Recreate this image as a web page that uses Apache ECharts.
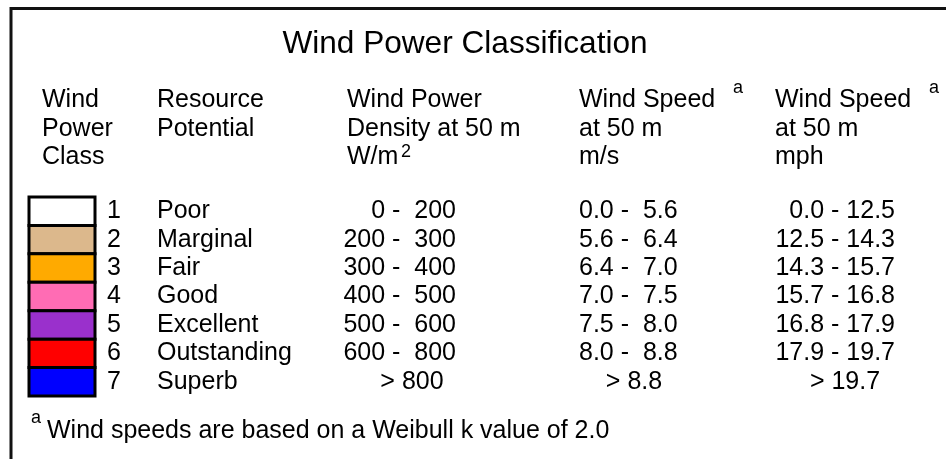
<!DOCTYPE html>
<html>
<head>
<meta charset="utf-8">
<script src="https://cdn.jsdelivr.net/npm/echarts@6/dist/echarts.min.js"></script>
<style>html,body{margin:0;padding:0;background:#fff}#c{width:946px;height:459px}</style>
</head>
<body>
<div id="c"></div>
<script>
// ---- data ----
const classes = ['1', '2', '3', '4', '5', '6', '7'];
const potentials = ['Poor', 'Marginal', 'Fair', 'Good', 'Excellent', 'Outstanding', 'Superb'];
const densityLow = ['0', '200', '300', '400', '500', '600', '800'];
const densityHigh = ['200', '300', '400', '500', '600', '800', null];
const speedMsLow = ['0.0', '5.6', '6.4', '7.0', '7.5', '8.0', '8.8'];
const speedMsHigh = ['5.6', '6.4', '7.0', '7.5', '8.0', '8.8', null];
const speedMphLow = ['0.0', '12.5', '14.3', '15.7', '16.8', '17.9', '19.7'];
const speedMphHigh = ['12.5', '14.3', '15.7', '16.8', '17.9', '19.7', null];
const titleText = 'Wind Power Classification';
const headers = [
  'Wind\nPower\nClass',
  'Resource\nPotential',
  'Wind Power\nDensity at 50 m\nW/m',
  'Wind Speed\nat 50 m\nm/s',
  'Wind Speed\nat 50 m\nmph'
];
const footnote = 'Wind speeds are based on a Weibull k value of 2.0';

// ---- styles ----
const classColors = ['#FFFFFF', '#DCB88C', '#FFAA00', '#FF6CB4', '#9A30CC', '#FF0000', '#0000FF'];
const FONT = '"Liberation Sans", Arial, Helvetica, sans-serif';
const INK = '#000';

const chart = echarts.init(document.getElementById('c'), null, {renderer: 'canvas'});

function textSeries(texts, place) {
  return {
    type: 'custom',
    silent: true,
    data: texts.map((t, i) => ({value: [i], name: t})),
    renderItem: function (params, api) {
      const i = params.dataIndex;
      const t = texts[i];
      const p = place(i);
      const pt = api.coord([p.x, i]);
      return {
        type: 'text',
        x: pt[0], y: pt[1],
        style: {
          text: t, fill: INK, fontSize: 25, fontFamily: FONT,
          align: p.align, verticalAlign: 'middle'
        }
      };
    }
  };
}

function rangeText(lo, hi, sep) {
  return hi === null ? '> ' + lo : lo + sep + hi;
}

const densityText = densityLow.map((l, i) => rangeText(l, densityHigh[i], ' -  '));
const msText = speedMsLow.map((l, i) => rangeText(l, speedMsHigh[i], ' -  '));
const mphText = speedMphLow.map((l, i) => rangeText(l, speedMphHigh[i], ' - '));

function headerText(x, t) {
  return {type: 'text', x: x, y: 86, style: {text: t, fill: INK, fontSize: 25, lineHeight: 28.5, fontFamily: FONT, align: 'left', verticalAlign: 'top'}};
}
function supText(x, y, t, size) {
  return {type: 'text', x: x, y: y, style: {text: t, fill: INK, fontSize: size, fontFamily: FONT, align: 'left', verticalAlign: 'middle'}};
}

const option = {
  animation: false,
  backgroundColor: '#fff',
  grid: {left: 0, right: 0, top: 197, height: 199},
  xAxis: {type: 'value', min: 0, max: 946, show: false},
  yAxis: {type: 'category', data: classes, inverse: true, show: false},
  graphic: [
    {type: 'polyline', shape: {points: [[946, 8.5], [11, 8.5], [11, 459]]},
     style: {stroke: '#111', lineWidth: 3, fill: null}},
    {type: 'text', x: 465, y: 44, style: {text: titleText, fill: INK, fontSize: 31.6, fontFamily: FONT, align: 'center', verticalAlign: 'middle'}},
    headerText(42, headers[0]),
    headerText(157, headers[1]),
    headerText(347, headers[2]),
    headerText(579, headers[3]),
    headerText(775, headers[4]),
    supText(401, 152, '2', 18),
    supText(733, 88, 'a', 18),
    supText(929, 88, 'a', 18),
    supText(31, 418, 'a', 18),
    {type: 'text', x: 47, y: 431, style: {text: footnote, fill: INK, fontSize: 25, fontFamily: FONT, align: 'left', verticalAlign: 'middle'}}
  ],
  series: [
    {
      type: 'custom',
      silent: true,
      data: classes.map((c, i) => ({value: [i], name: c})),
      renderItem: function (params, api) {
        const i = params.dataIndex;
        const a = api.coord([29, i]);
        const b = api.coord([95, i]);
        const h = api.size([0, 1])[1];
        return {
          type: 'rect',
          shape: {x: a[0], y: a[1] - h / 2, width: b[0] - a[0], height: h},
          style: {fill: classColors[i], stroke: '#000', lineWidth: 3}
        };
      }
    },
    textSeries(classes, () => ({x: 121, align: 'right'})),
    textSeries(potentials, () => ({x: 157, align: 'left'})),
    textSeries(densityText, i => densityHigh[i] === null ? {x: 412, align: 'center'} : {x: 456, align: 'right'}),
    textSeries(msText, i => speedMsHigh[i] === null ? {x: 634, align: 'center'} : {x: 579, align: 'left'}),
    textSeries(mphText, i => speedMphHigh[i] === null ? {x: 845, align: 'center'} : {x: 895, align: 'right'})
  ]
};
chart.setOption(option);
</script>
</body>
</html>
